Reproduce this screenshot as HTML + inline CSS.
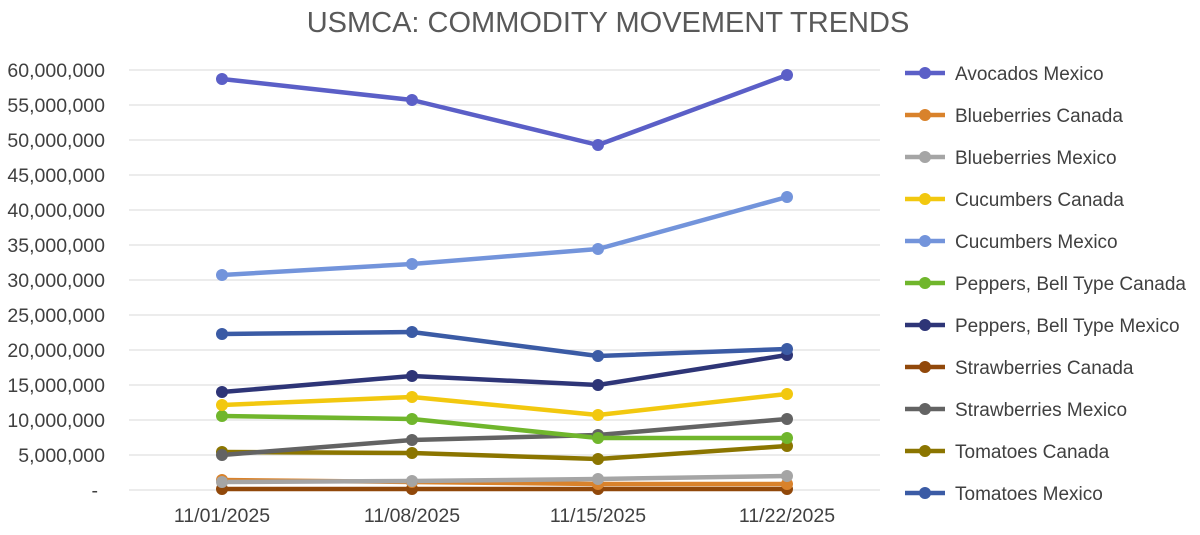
<!DOCTYPE html>
<html><head><meta charset="utf-8"><style>
body{margin:0;background:#fff;}
svg text{font-family:"Liberation Sans",sans-serif;}
</style></head><body>
<svg width="1200" height="530" xmlns="http://www.w3.org/2000/svg">
<rect width="1200" height="530" fill="#fff"/>
<text x="608" y="32" font-size="29" fill="#595959" text-anchor="middle">USMCA: COMMODITY MOVEMENT TRENDS</text>
<g stroke="#d9d9d9" stroke-width="1">
<line x1="129" x2="880" y1="70" y2="70"/><line x1="129" x2="880" y1="105" y2="105"/>
<line x1="129" x2="880" y1="140" y2="140"/><line x1="129" x2="880" y1="175" y2="175"/>
<line x1="129" x2="880" y1="210" y2="210"/><line x1="129" x2="880" y1="245" y2="245"/>
<line x1="129" x2="880" y1="280" y2="280"/><line x1="129" x2="880" y1="315" y2="315"/>
<line x1="129" x2="880" y1="350" y2="350"/><line x1="129" x2="880" y1="385" y2="385"/>
<line x1="129" x2="880" y1="420" y2="420"/><line x1="129" x2="880" y1="455" y2="455"/>
<line x1="129" x2="880" y1="490" y2="490"/>
</g>
<g font-size="19.5" fill="#404040" text-anchor="end">
<text x="105" y="77">60,000,000</text><text x="105" y="112">55,000,000</text>
<text x="105" y="147">50,000,000</text><text x="105" y="182">45,000,000</text>
<text x="105" y="217">40,000,000</text><text x="105" y="252">35,000,000</text>
<text x="105" y="287">30,000,000</text><text x="105" y="322">25,000,000</text>
<text x="105" y="357">20,000,000</text><text x="105" y="392">15,000,000</text>
<text x="105" y="427">10,000,000</text><text x="105" y="462">5,000,000</text>
<text x="98" y="497">-</text>
</g>
<g font-size="19.5" fill="#404040" text-anchor="middle">
<text x="222" y="522">11/01/2025</text><text x="412" y="522">11/08/2025</text>
<text x="598" y="522">11/15/2025</text><text x="787" y="522">11/22/2025</text>
</g>
<g fill="none" stroke-width="4.5" stroke-linejoin="round">
<polyline stroke="#91480a" points="222,489 412,489 598,489 787,489"/>
<polyline stroke="#D9822B" points="222,480 412,482 598,484 787,484"/>
<polyline stroke="#A5A5A5" points="222,482 412,481 598,479 787,476"/>
<polyline stroke="#8B7500" points="222,452 412,453 598,459 787,446"/>
<polyline stroke="#636363" points="222,455 412,440 598,435 787,419"/>
<polyline stroke="#70B62C" points="222,416 412,419 598,438 787,438"/>
<polyline stroke="#F2C80F" points="222,405 412,397 598,415 787,394"/>
<polyline stroke="#2E3577" points="222,392 412,376 598,385 787,355"/>
<polyline stroke="#3B5BA5" points="222,334 412,332 598,356 787,349"/>
<polyline stroke="#7394DB" points="222,275 412,264 598,249 787,197"/>
<polyline stroke="#5B5FC7" points="222,79 412,100 598,145 787,75"/>
</g>
<g>
<g fill="#91480a"><circle cx="222" cy="489" r="6"/><circle cx="412" cy="489" r="6"/><circle cx="598" cy="489" r="6"/><circle cx="787" cy="489" r="6"/></g>
<g fill="#D9822B"><circle cx="222" cy="480" r="6"/><circle cx="412" cy="482" r="6"/><circle cx="598" cy="484" r="6"/><circle cx="787" cy="484" r="6"/></g>
<g fill="#A5A5A5"><circle cx="222" cy="482" r="6"/><circle cx="412" cy="481" r="6"/><circle cx="598" cy="479" r="6"/><circle cx="787" cy="476" r="6"/></g>
<g fill="#8B7500"><circle cx="222" cy="452" r="6"/><circle cx="412" cy="453" r="6"/><circle cx="598" cy="459" r="6"/><circle cx="787" cy="446" r="6"/></g>
<g fill="#636363"><circle cx="222" cy="455" r="6"/><circle cx="412" cy="440" r="6"/><circle cx="598" cy="435" r="6"/><circle cx="787" cy="419" r="6"/></g>
<g fill="#70B62C"><circle cx="222" cy="416" r="6"/><circle cx="412" cy="419" r="6"/><circle cx="598" cy="438" r="6"/><circle cx="787" cy="438" r="6"/></g>
<g fill="#F2C80F"><circle cx="222" cy="405" r="6"/><circle cx="412" cy="397" r="6"/><circle cx="598" cy="415" r="6"/><circle cx="787" cy="394" r="6"/></g>
<g fill="#2E3577"><circle cx="222" cy="392" r="6"/><circle cx="412" cy="376" r="6"/><circle cx="598" cy="385" r="6"/><circle cx="787" cy="355" r="6"/></g>
<g fill="#3B5BA5"><circle cx="222" cy="334" r="6"/><circle cx="412" cy="332" r="6"/><circle cx="598" cy="356" r="6"/><circle cx="787" cy="349" r="6"/></g>
<g fill="#7394DB"><circle cx="222" cy="275" r="6"/><circle cx="412" cy="264" r="6"/><circle cx="598" cy="249" r="6"/><circle cx="787" cy="197" r="6"/></g>
<g fill="#5B5FC7"><circle cx="222" cy="79" r="6"/><circle cx="412" cy="100" r="6"/><circle cx="598" cy="145" r="6"/><circle cx="787" cy="75" r="6"/></g>
</g>
<g font-size="19" fill="#404040" stroke-width="4.5">
<g transform="translate(0,73)"><line x1="905" x2="945" stroke="#5B5FC7"/><circle cx="925" r="6" fill="#5B5FC7"/><text x="955" y="7">Avocados Mexico</text></g>
<g transform="translate(0,115)"><line x1="905" x2="945" stroke="#D9822B"/><circle cx="925" r="6" fill="#D9822B"/><text x="955" y="7">Blueberries Canada</text></g>
<g transform="translate(0,157)"><line x1="905" x2="945" stroke="#A5A5A5"/><circle cx="925" r="6" fill="#A5A5A5"/><text x="955" y="7">Blueberries Mexico</text></g>
<g transform="translate(0,199)"><line x1="905" x2="945" stroke="#F2C80F"/><circle cx="925" r="6" fill="#F2C80F"/><text x="955" y="7">Cucumbers Canada</text></g>
<g transform="translate(0,241)"><line x1="905" x2="945" stroke="#7394DB"/><circle cx="925" r="6" fill="#7394DB"/><text x="955" y="7">Cucumbers Mexico</text></g>
<g transform="translate(0,283)"><line x1="905" x2="945" stroke="#70B62C"/><circle cx="925" r="6" fill="#70B62C"/><text x="955" y="7">Peppers, Bell Type Canada</text></g>
<g transform="translate(0,325)"><line x1="905" x2="945" stroke="#2E3577"/><circle cx="925" r="6" fill="#2E3577"/><text x="955" y="7">Peppers, Bell Type Mexico</text></g>
<g transform="translate(0,367)"><line x1="905" x2="945" stroke="#91480a"/><circle cx="925" r="6" fill="#91480a"/><text x="955" y="7">Strawberries Canada</text></g>
<g transform="translate(0,409)"><line x1="905" x2="945" stroke="#636363"/><circle cx="925" r="6" fill="#636363"/><text x="955" y="7">Strawberries Mexico</text></g>
<g transform="translate(0,451)"><line x1="905" x2="945" stroke="#8B7500"/><circle cx="925" r="6" fill="#8B7500"/><text x="955" y="7">Tomatoes Canada</text></g>
<g transform="translate(0,493)"><line x1="905" x2="945" stroke="#3B5BA5"/><circle cx="925" r="6" fill="#3B5BA5"/><text x="955" y="7">Tomatoes Mexico</text></g>
</g>
</svg>
</body></html>
